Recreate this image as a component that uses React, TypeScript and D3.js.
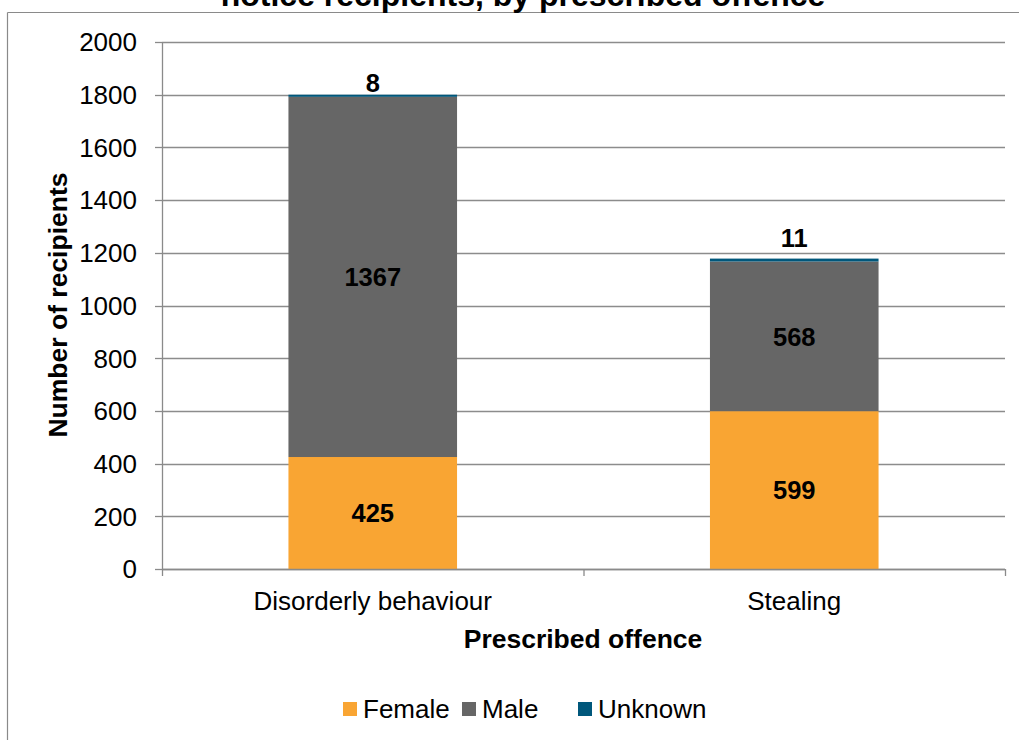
import React from "react";
import * as d3 from "d3";

// Prescribed offence categories and recipient counts by sex
const categories = ["Disorderly behaviour", "Stealing"];
const female = [425, 599];
const male = [1367, 568];
const unknown = [8, 11];
const seriesNames = ["Female", "Male", "Unknown"];
const seriesColors = ["#F9A533", "#666666", "#00577B"];
const yTicks = [0, 200, 400, 600, 800, 1000, 1200, 1400, 1600, 1800, 2000];

const W = 1019;
const H = 740;
const plot = { left: 162, right: 1005, top: 42, bottom: 569 };
const FONT = "'Liberation Sans', Arial, sans-serif";
const AXIS = "#8a8a8a";

export default function App() {
  const x = d3
    .scaleBand<string>()
    .domain(categories)
    .range([plot.left, plot.right])
    .paddingInner(0.6)
    .paddingOuter(0.3);
  const y = d3.scaleLinear().domain([0, 2000]).range([plot.bottom, plot.top]);

  const rows = categories.map((c, i) => ({
    category: c,
    Female: female[i],
    Male: male[i],
    Unknown: unknown[i],
  }));
  const stacked = d3.stack<any>().keys(seriesNames)(rows);

  const band = (plot.right - plot.left) / categories.length;
  const catTicks = d3.range(categories.length + 1).map((i) => plot.left + i * band);
  const cx = (c: string) => x(c)! + x.bandwidth() / 2;
  const px = (v: number) => Math.round(y(v)) + 0.5;

  // gap between the top of each stack and its "Unknown" label
  const topLabelGap = [3, 12];

  const legendItems = [
    { x: 343, label: seriesNames[0], color: seriesColors[0] },
    { x: 462, label: seriesNames[1], color: seriesColors[1] },
    { x: 578, label: seriesNames[2], color: seriesColors[2] },
  ];

  return (
    <svg
      width={W}
      height={H}
      style={{ position: "absolute", left: 0, top: 0, background: "#fff" }}
      fontFamily={FONT}
    >
      {/* frame */}
      <line x1={7.5} y1={12.5} x2={W} y2={12.5} stroke={AXIS} strokeWidth={1.2} />
      <line x1={7.5} y1={12.5} x2={7.5} y2={H} stroke={AXIS} strokeWidth={1.2} />

      {/* title (second line) */}
      <text x={523} y={6} textAnchor="middle" fontSize={32} fontWeight="bold" fill="#000">
        notice recipients, by prescribed offence
      </text>

      {/* gridlines */}
      {yTicks.map((t) => (
        <line key={"g" + t} x1={plot.left} x2={plot.right} y1={px(t)} y2={px(t)} stroke="#8c8c8c" strokeWidth={1.3} />
      ))}

      {/* bars */}
      {stacked.map((s, si) =>
        s.map((d, i) => (
          <rect
            key={seriesNames[si] + i}
            x={x(categories[i])}
            width={x.bandwidth()}
            y={y(d[1])}
            height={y(d[0]) - y(d[1])}
            fill={seriesColors[si]}
          />
        ))
      )}

      {/* y axis */}
      <line x1={plot.left + 0.5} x2={plot.left + 0.5} y1={plot.top} y2={plot.bottom} stroke={AXIS} strokeWidth={1.3} />
      {yTicks.map((t) => (
        <g key={"t" + t}>
          <line x1={155} x2={plot.left} y1={px(t)} y2={px(t)} stroke={AXIS} strokeWidth={1.3} />
          <text x={137} y={y(t)} dy="0.36em" textAnchor="end" fontSize={26} fill="#000">
            {t}
          </text>
        </g>
      ))}

      {/* x axis */}
      <line x1={plot.left} x2={plot.right} y1={plot.bottom + 0.5} y2={plot.bottom + 0.5} stroke={AXIS} strokeWidth={1.3} />
      {catTicks.map((t, i) => (
        <line key={"c" + i} x1={t + 0.5} x2={t + 0.5} y1={plot.bottom} y2={plot.bottom + 7} stroke={AXIS} strokeWidth={1.3} />
      ))}
      {categories.map((c) => (
        <text key={c} x={cx(c)} y={610} textAnchor="middle" fontSize={26} fill="#000">
          {c}
        </text>
      ))}

      {/* data labels */}
      {stacked.slice(0, 2).map((s, si) =>
        s.map((d, i) => (
          <text
            key={"l" + si + i}
            x={cx(categories[i])}
            y={(y(d[0]) + y(d[1])) / 2}
            dy="0.36em"
            textAnchor="middle"
            fontSize={25.5}
            fontWeight="bold"
            fill="#000"
          >
            {si === 0 ? female[i] : male[i]}
          </text>
        ))
      )}
      {stacked[2].map((d, i) => (
        <text
          key={"u" + i}
          x={cx(categories[i])}
          y={y(d[1]) - topLabelGap[i]}
          textAnchor="middle"
          fontSize={25.5}
          fontWeight="bold"
          fill="#000"
        >
          {unknown[i]}
        </text>
      ))}

      {/* axis titles */}
      <text transform="translate(67, 305) rotate(-90)" textAnchor="middle" fontSize={26.5} fontWeight="bold" fill="#000">
        Number of recipients
      </text>
      <text x={583} y={648} textAnchor="middle" fontSize={26.5} fontWeight="bold" fill="#000">
        Prescribed offence
      </text>

      {/* legend */}
      {legendItems.map((it) => (
        <g key={it.label}>
          <rect x={it.x} y={702} width={14} height={14} fill={it.color} />
          <text x={it.x + 20} y={718} fontSize={26} fill="#000">
            {it.label}
          </text>
        </g>
      ))}
    </svg>
  );
}
